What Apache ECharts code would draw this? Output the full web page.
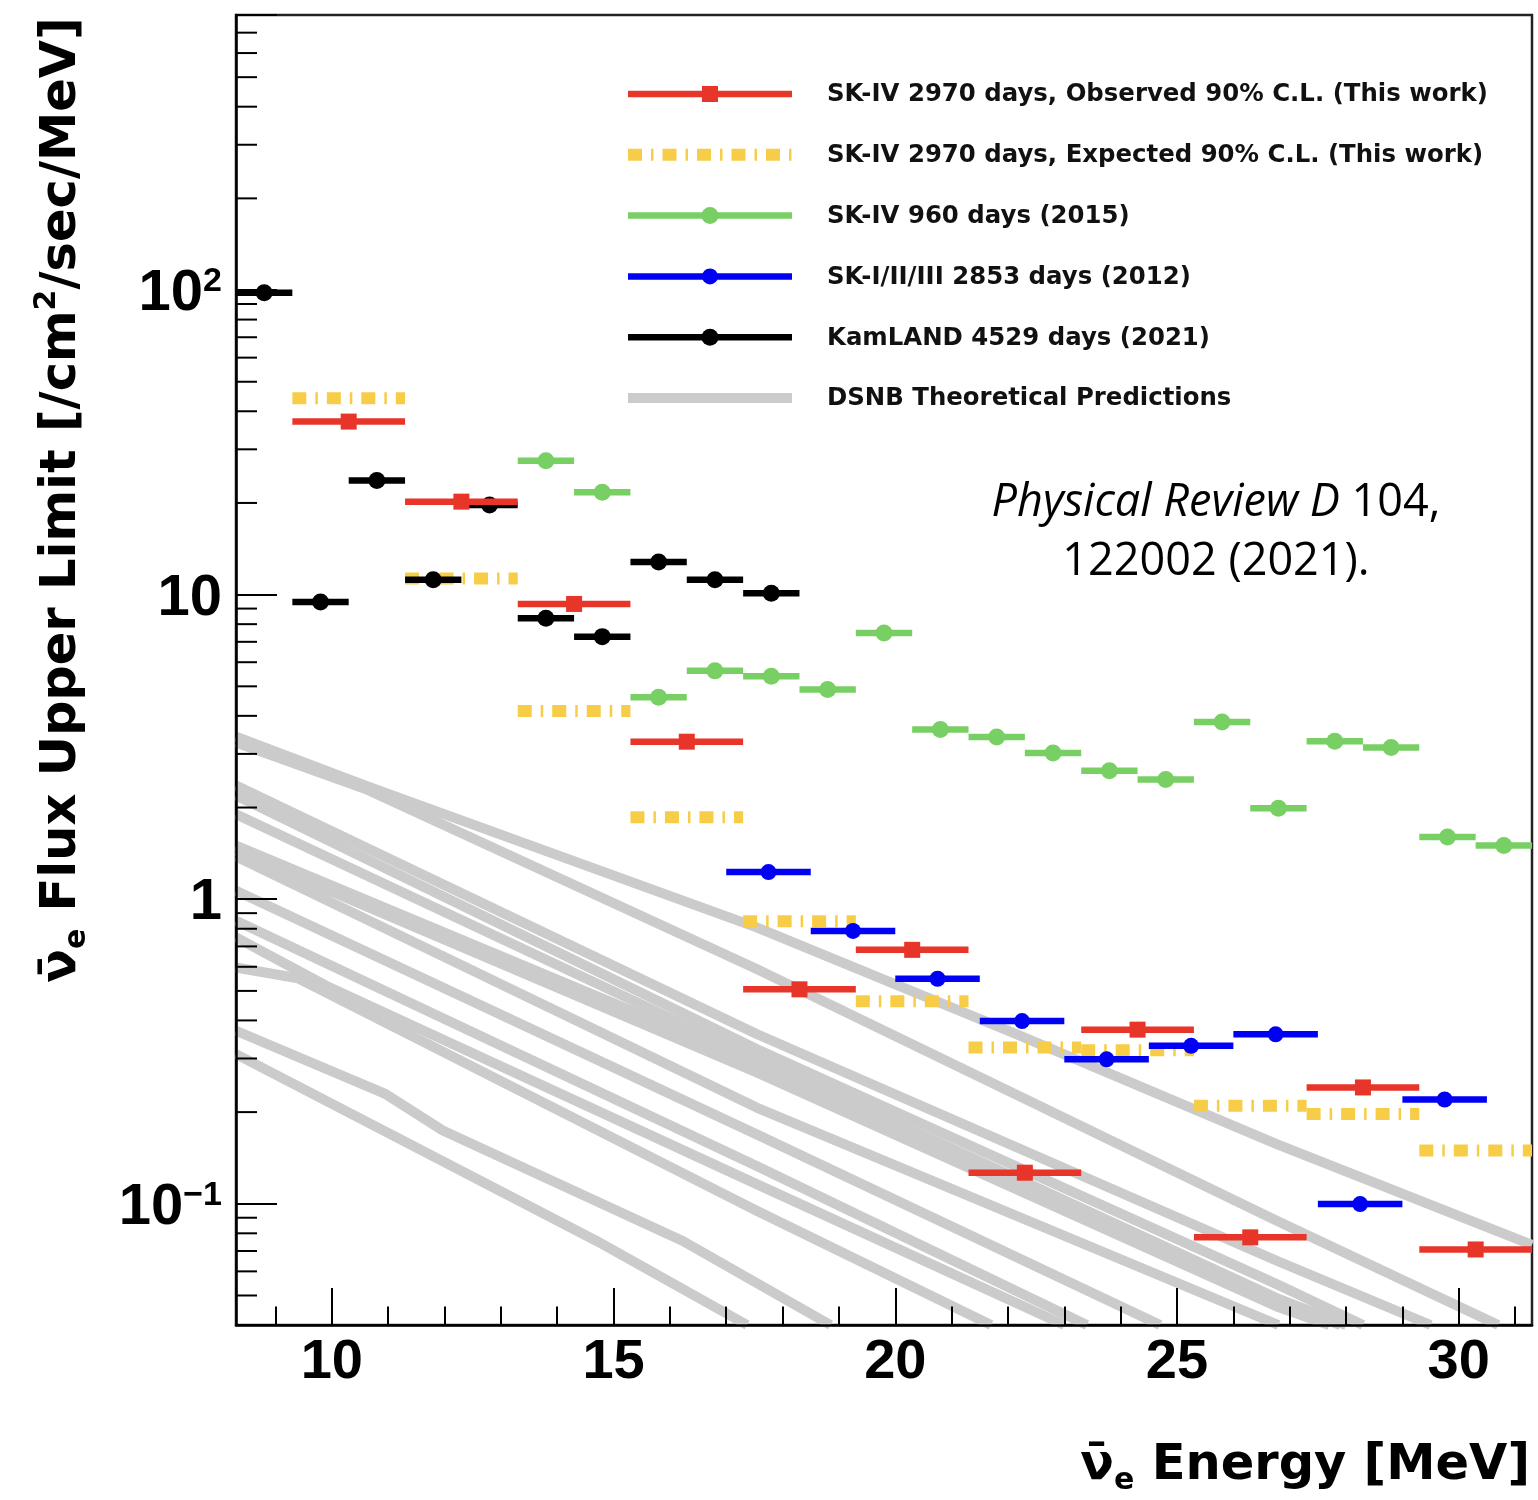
<!DOCTYPE html>
<html>
<head>
<meta charset="utf-8">
<script src="https://cdn.jsdelivr.net/npm/echarts@6/dist/echarts.min.js"></script>
<style>
  html, body { margin: 0; padding: 0; background: #ffffff; }
  #chart { width: 1538px; height: 1500px; }
</style>
</head>
<body>
<div id="chart"></div>
<script>
// ---------------- data ----------------
const X_MIN = 8.3, X_MAX = 31.3;
const Y_MIN = 0.04, Y_MAX = 800;

const xMajorTicks = [10, 15, 20, 25, 30];
const xMinorTicks = [9, 11, 12, 13, 14, 16, 17, 18, 19, 21, 22, 23, 24, 26, 27, 28, 29, 31];
const yMajorTicks = [0.1, 1, 10, 100];
const yMajorLabels = ['{b|10}{s|\u22121}', '{b|1}', '{b|10}', '{b|10}{s|2}'];
const yMinorTicks = [0.05, 0.06, 0.07, 0.08, 0.09,
                     0.2, 0.3, 0.4, 0.5, 0.6, 0.7, 0.8, 0.9,
                     2, 3, 4, 5, 6, 7, 8, 9,
                     20, 30, 40, 50, 60, 70, 80, 90,
                     200, 300, 400, 500, 600, 700];

// SK-IV 2970 days (2 MeV bins)
const skivCenters = [10.3, 12.3, 14.3, 16.3, 18.3, 20.3, 22.3, 24.3, 26.3, 28.3, 30.3];
const skivHalfWidth = 1.0;
const skivObserved = [37.0, 20.2, 9.32, 3.29, 0.506, 0.682, 0.1265, 0.373, 0.0776, 0.241, 0.0708];
const skivExpected = [44.1, 11.3, 4.15, 1.86, 0.846, 0.462, 0.326, 0.319, 0.210, 0.197, 0.1495];

// SK-IV 960 days (2015), 1 MeV bins
const sk960Centers = [13.8, 14.8, 15.8, 16.8, 17.8, 18.8, 19.8, 20.8, 21.8, 22.8, 23.8, 24.8, 25.8, 26.8, 27.8, 28.8, 29.8, 30.8];
const sk960HalfWidth = 0.5;
const sk960Limits = [27.5, 21.7, 4.60, 5.62, 5.40, 4.88, 7.48, 3.61, 3.41, 3.02, 2.64, 2.47, 3.82, 1.99, 3.30, 3.15, 1.60, 1.50];

// SK-I/II/III 2853 days (2012), 1.5 MeV bins
const sk123Centers = [17.75, 19.25, 20.75, 22.25, 23.75, 25.25, 26.75, 28.25, 29.75];
const sk123HalfWidth = 0.75;
const sk123Limits = [1.228, 0.787, 0.548, 0.398, 0.298, 0.330, 0.360, 0.0998, 0.220];

// KamLAND 4529 days (2021), 1 MeV bins
const kamCenters = [8.8, 9.8, 10.8, 11.8, 12.8, 13.8, 14.8, 15.8, 16.8, 17.8];
const kamHalfWidth = 0.5;
const kamLimits = [98, 9.46, 23.7, 11.2, 19.7, 8.36, 7.28, 12.8, 11.2, 10.1];

// DSNB theoretical predictions: [energy, flux] polylines
const dsnb1  = [[8.3, 3.42], [10.6, 2.36], [17.54, 0.808], [22, 0.37], [26.77, 0.157], [31.3, 0.0733]];
const dsnb2  = [[8.3, 3.27], [10.6, 2.30], [17.54, 0.59], [26.77, 0.088], [30.7, 0.04]];
const dsnb3  = [[8.3, 2.36], [17.54, 0.361], [26.77, 0.065], [29.5, 0.04]];
const dsnb4  = [[8.3, 2.19], [17.54, 0.322], [26.77, 0.0545], [28.3, 0.04]];
const dsnb5  = [[8.3, 1.90], [17.54, 0.300], [26.77, 0.049], [28.0, 0.04]];
const dsnb6  = [[8.3, 1.50], [17.54, 0.290], [26.77, 0.048], [27.9, 0.04]];
const dsnb7  = [[8.3, 1.44], [17.54, 0.270], [26.77, 0.046], [27.7, 0.04]];
const dsnb8  = [[8.3, 1.38], [17.54, 0.207], [26.8, 0.04]];
const dsnb9  = [[8.3, 1.066], [17.54, 0.169], [24.7, 0.04]];
const dsnb10 = [[8.3, 0.85], [17.54, 0.133], [23.4, 0.04]];
const dsnb11 = [[8.3, 0.749], [9.9, 0.52], [17.54, 0.116], [23.0, 0.04]];
const dsnb12 = [[8.3, 0.597], [9.4, 0.55], [17.54, 0.0949], [21.7, 0.04]];
const dsnb13 = [[8.3, 0.370], [10.96, 0.229], [11.97, 0.174], [16.23, 0.0755], [18.85, 0.04]];
const dsnb14 = [[8.3, 0.310], [14.7, 0.0755], [17.37, 0.04]];
const dsnbCurves = [dsnb1, dsnb2, dsnb3, dsnb4, dsnb5, dsnb6, dsnb7, dsnb8, dsnb9, dsnb10, dsnb11, dsnb12, dsnb13, dsnb14];

const legendLabels = [
  'SK-IV 2970 days, Observed 90% C.L. (This work)',
  'SK-IV 2970 days, Expected 90% C.L. (This work)',
  'SK-IV 960 days (2015)',
  'SK-I/II/III 2853 days (2012)',
  'KamLAND 4529 days (2021)',
  'DSNB Theoretical Predictions'
];

// ---------------- styles ----------------
const RED = '#e8352a', YELLOW = '#f7cd48', GREEN = '#78d064', BLUE = '#0000f5', BLACK = '#000000', GRAY = '#cbcbcb';
const YDASH = [14, 9, 2.5, 9];
const styles = {
  obs:   { color: RED,    lineWidth: 6.5, marker: 'square', size: 16 },
  exp:   { color: YELLOW, lineWidth: 12,  marker: null, dash: YDASH },
  sk960: { color: GREEN,  lineWidth: 6.5, marker: 'circle', size: 17 },
  sk123: { color: BLUE,   lineWidth: 6.5, marker: 'circle', size: 16 },
  kam:   { color: BLACK,  lineWidth: 6.5, marker: 'circle', size: 17 },
  dsnb:  { color: GRAY,   lineWidth: 10 }
};

function errBarSeries(name, centers, limits, halfWidth, st, z) {
  return {
    type: 'custom', name: name, coordinateSystem: 'cartesian2d',
    silent: true, clip: true, z: z, animation: false,
    data: centers.map((c, i) => [c - halfWidth, c + halfWidth, limits[i]]),
    encode: { x: [0, 1], y: 2 },
    renderItem: function (params, api) {
      const lo = api.coord([api.value(0), api.value(2)]);
      const hi = api.coord([api.value(1), api.value(2)]);
      const cx = (lo[0] + hi[0]) / 2, cy = lo[1];
      const lineStyle = { stroke: st.color, lineWidth: st.lineWidth, lineCap: 'butt' };
      if (st.dash) lineStyle.lineDash = st.dash;
      const children = [{ type: 'line', shape: { x1: lo[0], y1: cy, x2: hi[0], y2: cy }, style: lineStyle }];
      if (st.marker === 'square') {
        children.push({ type: 'rect', shape: { x: cx - st.size / 2, y: cy - st.size / 2, width: st.size, height: st.size }, style: { fill: st.color } });
      } else if (st.marker === 'circle') {
        children.push({ type: 'circle', shape: { cx: cx, cy: cy, r: st.size / 2 }, style: { fill: st.color } });
      }
      return { type: 'group', children: children };
    }
  };
}

const series = [];
dsnbCurves.forEach((pts, i) => {
  series.push({
    type: 'line', name: 'DSNB ' + (i + 1), data: pts, symbol: 'none', silent: true,
    clip: true, z: 1, animation: false,
    lineStyle: { color: GRAY, width: styles.dsnb.lineWidth, cap: 'butt', join: 'round' },
    emphasis: { disabled: true }
  });
});
series.push(errBarSeries('SK-IV 960 days', sk960Centers, sk960Limits, sk960HalfWidth, styles.sk960, 3));
series.push(errBarSeries('SK-IV expected', skivCenters, skivExpected, skivHalfWidth, styles.exp, 4));
series.push(errBarSeries('KamLAND', kamCenters, kamLimits, kamHalfWidth, styles.kam, 5));
series.push(errBarSeries('SK-I/II/III', sk123Centers, sk123Limits, sk123HalfWidth, styles.sk123, 6));
series.push(errBarSeries('SK-IV observed', skivCenters, skivObserved, skivHalfWidth, styles.obs, 7));
// minor y ticks (ROOT style, at 2..9 x 10^n), drawn through the log scale
series.push({
  type: 'custom', name: 'yMinorTicks', coordinateSystem: 'cartesian2d', silent: true, clip: false, z: 20,
  animation: false,
  data: yMinorTicks.map(v => [X_MIN, v]),
  encode: { x: 0, y: 1 },
  renderItem: function (params, api) {
    const p = api.coord([api.value(0), api.value(1)]);
    return { type: 'line', shape: { x1: p[0], y1: p[1], x2: p[0] + 21, y2: p[1] }, style: { stroke: '#000', lineWidth: 2 } };
  }
});

// ---------------- legend & annotations (graphic) ----------------
const LEG_X0 = 628, LEG_X1 = 792, LEG_TX = 827, LEG_Y0 = 94, LEG_DY = 60.8;
const legendStyles = [styles.obs, styles.exp, styles.sk960, styles.sk123, styles.kam, styles.dsnb];
const graphics = [];
legendStyles.forEach((st, i) => {
  const y = LEG_Y0 + i * LEG_DY;
  const ls = { stroke: st.color, lineWidth: st.lineWidth, lineCap: 'butt' };
  if (st.dash) ls.lineDash = st.dash;
  graphics.push({ type: 'line', shape: { x1: LEG_X0, y1: y, x2: LEG_X1, y2: y }, style: ls, silent: true, z: 50 });
  const mx = (LEG_X0 + LEG_X1) / 2;
  if (st.marker === 'square') {
    graphics.push({ type: 'rect', shape: { x: mx - st.size / 2, y: y - st.size / 2, width: st.size, height: st.size }, style: { fill: st.color }, silent: true, z: 51 });
  } else if (st.marker === 'circle') {
    graphics.push({ type: 'circle', shape: { cx: mx, cy: y, r: st.size / 2 }, style: { fill: st.color }, silent: true, z: 51 });
  }
  graphics.push({
    type: 'text', x: LEG_TX, y: y + 1, silent: true, z: 51,
    style: { text: legendLabels[i], fill: '#111', font: 'bold 24.4px "DejaVu Sans"', align: 'left', verticalAlign: 'middle' }
  });
});

// Reference text
graphics.push({
  type: 'text', x: 1216, y: 503, silent: true, z: 51,
  style: {
    text: '{i|Physical Review D}{r| 104,}', align: 'center', verticalAlign: 'middle',
    rich: {
      i: { fontFamily: 'Open Sans', fontStyle: 'italic', fontSize: 45, fill: '#000' },
      r: { fontFamily: 'Open Sans', fontSize: 45, fill: '#000' }
    }
  }
});
graphics.push({
  type: 'text', x: 1216, y: 562, silent: true, z: 51,
  style: { text: '122002 (2021).', font: '45px "Open Sans"', fill: '#000', align: 'center', verticalAlign: 'middle' }
});

const titleRich = {
  n:   { fontFamily: 'DejaVu Sans', fontWeight: 'bold', fontSize: 49.5, lineHeight: 60, fill: '#000' },
  t:   { fontFamily: 'DejaVu Sans', fontWeight: 'bold', fontSize: 49.5, lineHeight: 60, fill: '#000' },
  sub: { fontFamily: 'DejaVu Sans', fontWeight: 'bold', fontSize: 30, lineHeight: 16, verticalAlign: 'bottom', fill: '#000' },
  sup: { fontFamily: 'DejaVu Sans', fontWeight: 'bold', fontSize: 30, lineHeight: 16, verticalAlign: 'top', fill: '#000' }
};
// Y axis title
graphics.push({
  type: 'text', x: 62, y: 500, rotation: Math.PI / 2, silent: true, z: 51,
  style: {
    text: '{n|\u03BD\u0304}{sub|e}{t| Flux Upper Limit [/cm}{sup|2}{t|/sec/MeV]}',
    align: 'center', verticalAlign: 'middle', rich: titleRich
  }
});
// X axis title
graphics.push({
  type: 'text', x: 1530, y: 1466, silent: true, z: 51,
  style: {
    text: '{n|\u03BD\u0304}{sub|e}{t| Energy [MeV]}',
    align: 'right', verticalAlign: 'middle', rich: titleRich
  }
});

// ---------------- chart ----------------
const chart = echarts.init(document.getElementById('chart'), null, { renderer: 'canvas' });
const tickFont = { fontFamily: 'Liberation Sans', fontWeight: 'bold', fontSize: 56, color: '#000' };

chart.setOption({
  animation: false,
  backgroundColor: '#ffffff',
  grid: { left: 236, right: 6, top: 15, bottom: 175, show: true, borderColor: '#222', borderWidth: 2.5, backgroundColor: 'transparent' },
  xAxis: [
    {
      type: 'value', min: X_MIN, max: X_MAX, position: 'bottom', z: 10,
      axisLine: { show: true, onZero: false, lineStyle: { color: '#000', width: 2.5 } },
      axisTick: { show: true, inside: true, length: 37, lineStyle: { color: '#000', width: 2 }, customValues: xMajorTicks },
      axisLabel: Object.assign({ show: true, margin: 10, customValues: xMajorTicks }, tickFont),
      splitLine: { show: false }
    },
    {
      type: 'value', min: X_MIN, max: X_MAX, position: 'bottom', z: 10,
      axisLine: { show: false, onZero: false },
      axisTick: { show: true, inside: true, length: 18.5, lineStyle: { color: '#000', width: 2 }, customValues: xMinorTicks },
      axisLabel: { show: false, customValues: xMinorTicks },
      splitLine: { show: false }
    }
  ],
  yAxis: {
    type: 'log', logBase: 10, min: Y_MIN, max: Y_MAX, z: 10,
    axisLine: { show: true, onZero: false, lineStyle: { color: '#000', width: 2.5 } },
    axisTick: { show: true, inside: true, length: 41, lineStyle: { color: '#000', width: 2 } },
    axisLabel: {
      show: true, margin: 14, padding: [8, 0, 0, 0],
      formatter: function (v) {
        const idx = yMajorTicks.findIndex(t => Math.abs(Math.log10(v) - Math.log10(t)) < 1e-6);
        return idx >= 0 ? yMajorLabels[idx] : '';
      },
      rich: {
        b: { fontFamily: 'Liberation Sans', fontWeight: 'bold', fontSize: 58, lineHeight: 58, color: '#000' },
        s: { fontFamily: 'Liberation Sans', fontWeight: 'bold', fontSize: 34, lineHeight: 14, verticalAlign: 'top', color: '#000' }
      }
    },
    splitLine: { show: false },
    minorTick: { show: false }
  },
  graphic: graphics,
  series: series
});
</script>
</body>
</html>
